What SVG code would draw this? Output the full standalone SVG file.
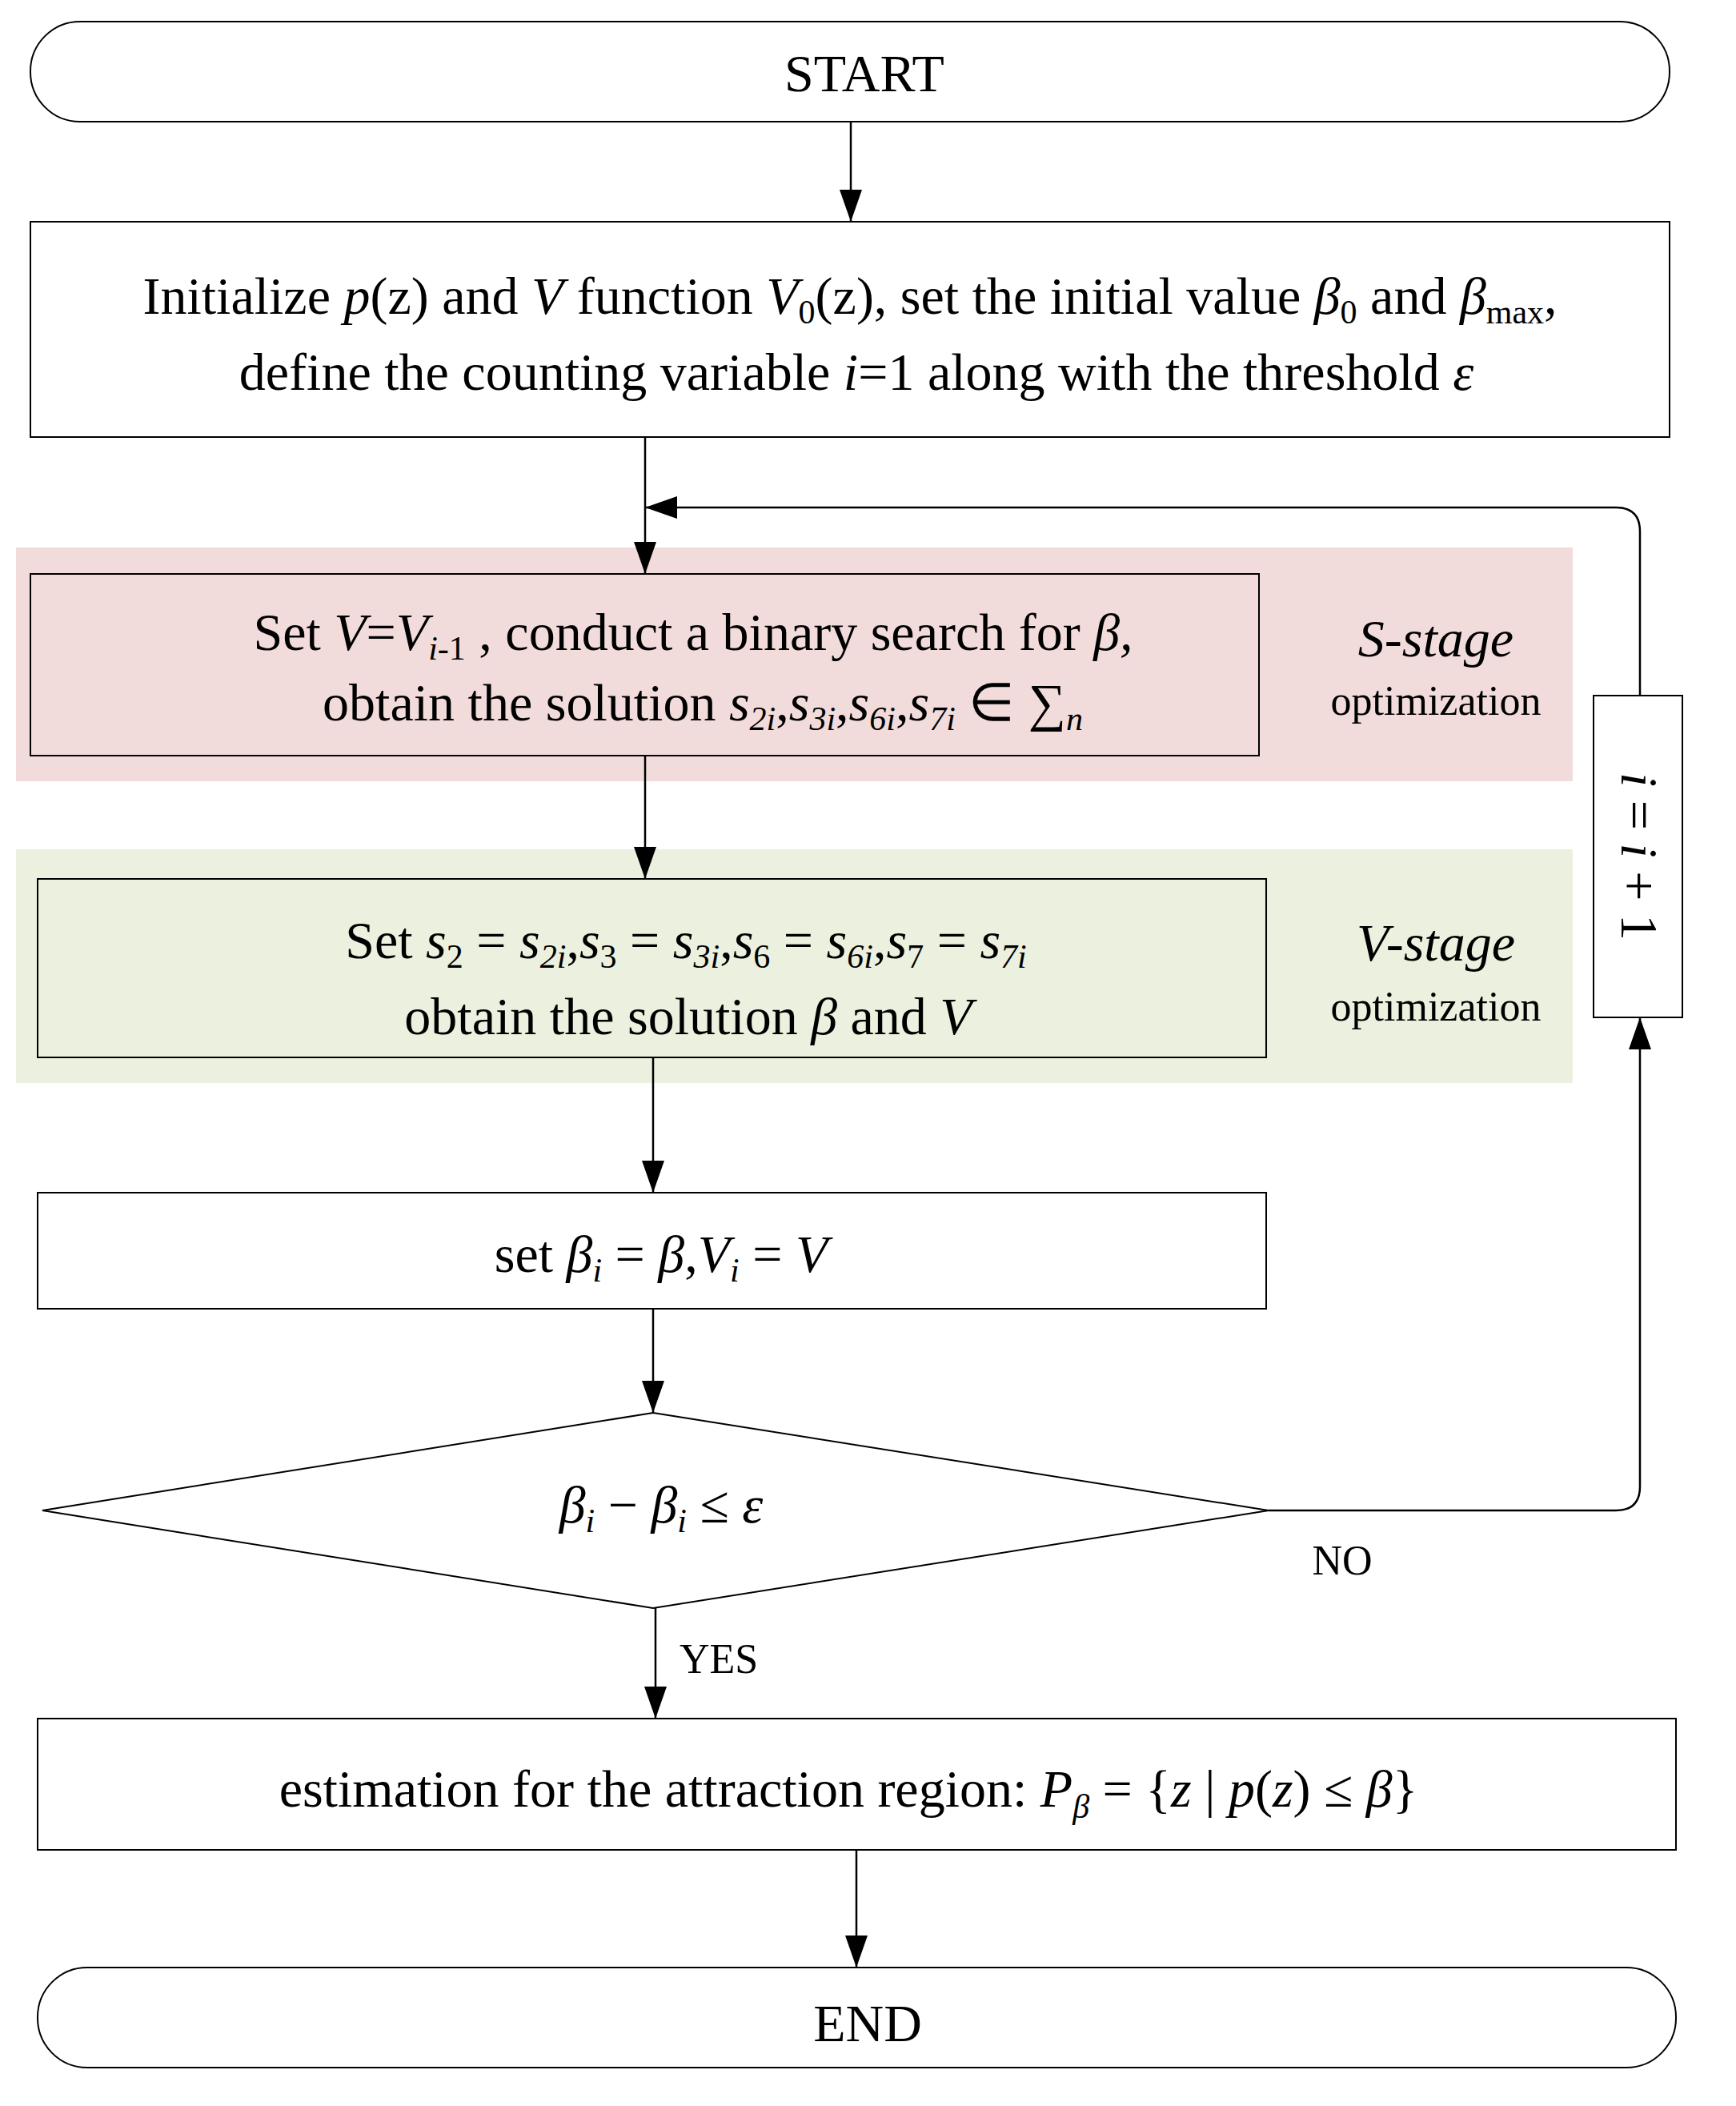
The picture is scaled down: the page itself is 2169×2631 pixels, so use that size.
<svg xmlns="http://www.w3.org/2000/svg" width="2169" height="2631" viewBox="0 0 2169 2631">
<defs>
<marker id="ah" viewBox="0 0 40 28" refX="40" refY="14" markerWidth="40" markerHeight="28" markerUnits="userSpaceOnUse" orient="auto"><path d="M0,0 L40,14 L0,28 z" fill="#000"/></marker>
<style>
.b{fill:#fff;stroke:#000;stroke-width:2}
.t{font-family:"Liberation Serif",serif;font-size:66px;fill:#000;text-anchor:middle}
.s{font-size:42px}
.i{font-style:italic}
.c{fill:none;stroke:#000;stroke-width:2.5;marker-end:url(#ah)}
</style>
</defs>
<rect x="0" y="0" width="2169" height="2631" fill="#fff"/>
<rect x="20" y="684" width="1945" height="292" fill="#f2dcdb"/>
<rect x="20" y="1061" width="1945" height="292" fill="#ebf1de"/>
<g id="start"><rect class="b" x="38" y="27" width="2048" height="125" rx="62"/><text class="t" x="1080" y="114">START</text></g>
<g id="init"><rect class="b" x="38" y="277" width="2048" height="269"/>
<text class="t" x="1062" y="392">Initialize <tspan class="i">p</tspan>(z) and <tspan class="i">V</tspan> function <tspan class="i">V</tspan><tspan class="s" dy="12">0</tspan><tspan dy="-12">(z), set the initial value </tspan><tspan class="i">β</tspan><tspan class="s" dy="12">0</tspan><tspan dy="-12"> and </tspan><tspan class="i">β</tspan><tspan class="s" dy="12">max</tspan><tspan dy="-12">,</tspan></text>
<text class="t" x="1070" y="487">define the counting variable <tspan class="i">i</tspan>=1 along with the threshold <tspan class="i">ε</tspan></text></g>
<g id="sstage"><rect x="38" y="717" width="1535" height="227" fill="#f2dcdb" stroke="#000" stroke-width="2"/>
<text class="t" x="866" y="812">Set <tspan class="i">V</tspan>=<tspan class="i">V</tspan><tspan class="s i" dy="12">i</tspan><tspan class="s">-1</tspan><tspan dy="-12"> , conduct a binary search for </tspan><tspan class="i">β,</tspan></text>
<text class="t" x="878" y="900">obtain the solution <tspan class="i">s</tspan><tspan class="s i" dy="12">2i</tspan><tspan dy="-12">,</tspan><tspan class="i">s</tspan><tspan class="s i" dy="12">3i</tspan><tspan dy="-12">,</tspan><tspan class="i">s</tspan><tspan class="s i" dy="12">6i</tspan><tspan dy="-12">,</tspan><tspan class="i">s</tspan><tspan class="s i" dy="12">7i</tspan><tspan dy="-12"> ∈ ∑</tspan><tspan class="s i" dy="12">n</tspan></text>
<text class="t i" x="1794" y="820">S-stage</text><text class="t" style="font-size:52px" x="1794" y="893">optimization</text></g>
<g id="vstage"><rect x="47" y="1098" width="1535" height="223" fill="#ebf1de" stroke="#000" stroke-width="2"/>
<text class="t" x="857" y="1197">Set <tspan class="i">s</tspan><tspan class="s" dy="12">2</tspan><tspan dy="-12"> = </tspan><tspan class="i">s</tspan><tspan class="s i" dy="12">2i</tspan><tspan dy="-12">,</tspan><tspan class="i">s</tspan><tspan class="s" dy="12">3</tspan><tspan dy="-12"> = </tspan><tspan class="i">s</tspan><tspan class="s i" dy="12">3i</tspan><tspan dy="-12">,</tspan><tspan class="i">s</tspan><tspan class="s" dy="12">6</tspan><tspan dy="-12"> = </tspan><tspan class="i">s</tspan><tspan class="s i" dy="12">6i</tspan><tspan dy="-12">,</tspan><tspan class="i">s</tspan><tspan class="s" dy="12">7</tspan><tspan dy="-12"> = </tspan><tspan class="i">s</tspan><tspan class="s i" dy="12">7i</tspan></text>
<text class="t" x="860" y="1292">obtain the solution <tspan class="i">β</tspan> and <tspan class="i">V</tspan></text>
<text class="t i" x="1794" y="1200">V-stage</text><text class="t" style="font-size:52px" x="1794" y="1275">optimization</text></g>
<g id="set"><rect class="b" x="47" y="1490" width="1535" height="145"/>
<text class="t" x="826" y="1589">set  <tspan class="i">β</tspan><tspan class="s i" dy="12">i</tspan><tspan dy="-12"> = </tspan><tspan class="i">β</tspan>,<tspan class="i">V</tspan><tspan class="s i" dy="12">i</tspan><tspan dy="-12"> = </tspan><tspan class="i">V</tspan></text></g>
<g id="cond"><polygon class="b" points="816,1765 1585,1887 816,2009 53,1887"/>
<text class="t" x="826" y="1902"><tspan class="i">β</tspan><tspan class="s i" dy="12">i</tspan><tspan dy="-12"> − </tspan><tspan class="i">β</tspan><tspan class="s i" dy="12">i</tspan><tspan dy="-12"> ≤ </tspan><tspan class="i">ε</tspan></text></g>
<g id="inc"><rect class="b" x="1991" y="869" width="111" height="402"/>
<text class="t" transform="translate(2026,1070) rotate(90)" x="0" y="0"><tspan class="i">i</tspan> = <tspan class="i">i</tspan> + 1</text></g>
<g id="est"><rect class="b" x="47" y="2147" width="2047" height="164"/>
<text class="t" x="1060" y="2257">estimation for the attraction region:  <tspan class="i">P</tspan><tspan class="s i" dy="14">β</tspan><tspan dy="-14"> = {</tspan><tspan class="i">z</tspan> | <tspan class="i">p</tspan>(<tspan class="i">z</tspan>) ≤ <tspan class="i">β</tspan>}</text></g>
<g id="end"><rect class="b" x="47" y="2458" width="2047" height="125" rx="62"/><text class="t" x="1084" y="2550">END</text></g>
<g id="connectors">
<line class="c" x1="1063" y1="152" x2="1063" y2="277"/>
<line class="c" x1="806" y1="546" x2="806" y2="717"/>
<path class="c" d="M2049,869 V664 Q2049,634 2019,634 H806"/>
<line class="c" x1="806" y1="944" x2="806" y2="1098"/>
<line class="c" x1="816" y1="1321" x2="816" y2="1490"/>
<line class="c" x1="816" y1="1635" x2="816" y2="1765"/>
<path class="c" d="M1585,1887 H2019 Q2049,1887 2049,1857 V1271"/>
<line class="c" x1="819" y1="2009" x2="819" y2="2147"/>
<line class="c" x1="1070" y1="2311" x2="1070" y2="2458"/>
<text class="t" style="font-size:52px" x="1677" y="1967">NO</text>
<text class="t" style="font-size:52px" x="898" y="2090">YES</text>
</g>
</svg>
